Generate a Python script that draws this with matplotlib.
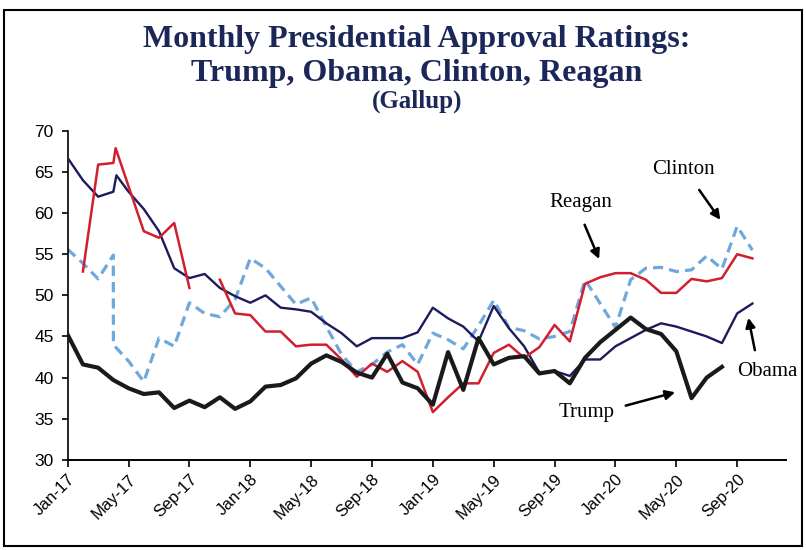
import matplotlib
matplotlib.use('Agg')
import matplotlib.pyplot as plt
import matplotlib.patches as patches
import numpy as np

# month offsets from Jan-17 (scanned chart has a few odd half-steps)
trump_x = list(range(0, 44))
trump = [45.2, 41.6, 41.2, 39.7, 38.7, 38.0, 38.2, 36.3, 37.2, 36.4,
         37.6, 36.2, 37.1, 38.9, 39.1, 39.9, 41.7, 42.7, 41.9, 40.6,
         40.0, 42.9, 39.4, 38.7, 36.7, 43.1, 38.5, 44.8, 41.6, 42.4,
         42.6, 40.5, 40.8, 39.3, 42.4, 44.3, 45.8, 47.3, 45.9, 45.3,
         43.2, 37.5, 40.0, 41.3]

obama_x = [0, 1, 2, 3, 3.2] + list(range(4, 46))
obama = [66.7, 64.0, 62.0, 62.6, 64.6,
         62.6, 60.5, 57.8, 53.3, 52.1, 52.6, 50.9, 49.9, 49.1, 50.0,
         48.5, 48.3, 48.0, 46.6, 45.4, 43.8, 44.8, 44.8, 44.8, 45.5,
         48.5, 47.2, 46.2, 44.4, 48.7, 46.0, 43.8, 40.6, 40.8, 40.2,
         42.2, 42.2, 43.8, 44.8, 45.8, 46.6, 46.2, 45.6, 45.0, 44.2,
         47.8, 49.0]

reagan_x = [1, 2, 3, 3.15, 5, 6, 7, 8, 9] + list(range(10, 46))
reagan = [52.9, 65.9, 66.1, 67.9, 57.8, 57.0, 58.8, 50.9, np.nan,
          51.9, 47.8, 47.6, 45.6, 45.6, 43.8, 44.0, 44.0, 42.2, 40.1,
          41.7, 40.7, 42.0, 40.7, 35.8, 37.6, 39.3, 39.3, 43.0, 44.0,
          42.4, 43.7, 46.4, 44.4, 51.4, 52.2, 52.7, 52.7, 51.9, 50.3,
          50.3, 52.0, 51.7, 52.1, 55.0, 54.5]

clinton_x = [0, 1, 2, 3, 3] + list(range(4, 46))
clinton = [55.6, 53.9, 52.0, 54.9, 44.0,
           42.0, 39.5, 44.8, 43.8, 49.1, 47.8, 47.4, 49.5, 54.5, 53.3,
           51.1, 48.9, 49.7, 46.2, 42.8, 40.7, 41.6, 43.1, 44.0, 41.6,
           45.4, 44.6, 43.5, 46.3, 49.4, 46.1, 45.7, 44.7, 45.0, 45.6,
           51.9, 49.0, 46.1, 51.9, 53.3, 53.4, 52.9, 53.1, 54.8, 53.2,
           58.4, 55.5]

tick_pos = list(range(0, 45, 4))
tick_labels = ['Jan-17', 'May-17', 'Sep-17', 'Jan-18', 'May-18', 'Sep-18',
               'Jan-19', 'May-19', 'Sep-19', 'Jan-20', 'May-20', 'Sep-20']

serif = 'Liberation Serif'
title_color = '#1c2759'

fig = plt.figure(figsize=(8.06, 5.5), dpi=100)
ax = fig.add_axes([0.084, 0.164, 0.891, 0.598])

ax.plot(clinton_x, clinton, color='#6fa8dc', lw=2.3, dashes=(3.2, 1.9), zorder=2)
ax.plot(obama_x, obama, color='#1b1b5e', lw=1.7, zorder=3)
ax.plot(reagan_x, reagan, color='#d11f2f', lw=1.8, zorder=4)
ax.plot(trump_x, trump, color='#1a1a1a', lw=3.0, zorder=5)

ax.set_xlim(0, 47.2)
ax.set_ylim(30, 70)
ax.set_yticks(range(30, 71, 5))
ax.set_xticks(tick_pos)
ax.set_xticklabels(tick_labels, rotation=45, ha='right', va='top',
                   rotation_mode='anchor', fontsize=12, family='Liberation Sans')
for lab in ax.get_yticklabels():
    lab.set_family('Liberation Sans')
    lab.set_fontsize(12.5)
ax.tick_params(axis='both', direction='out', length=5, width=1.2, color='black')
ax.tick_params(axis='y', length=4, pad=6)
ax.spines['top'].set_visible(False)
ax.spines['right'].set_visible(False)
ax.spines['left'].set_linewidth(1.2)
ax.spines['bottom'].set_linewidth(1.4)

# name labels with arrows
arrow = dict(arrowstyle='-|>', color='black', lw=1.8, mutation_scale=14)
ax.text(40.5, 65.3, 'Clinton', family=serif, fontsize=15, ha='center', va='center')
ax.annotate('', xy=(43.0, 58.9), xytext=(41.4, 63.1), arrowprops=arrow)
ax.text(33.7, 61.3, 'Reagan', family=serif, fontsize=15, ha='center', va='center')
ax.annotate('', xy=(35.0, 54.1), xytext=(33.9, 58.9), arrowprops=arrow)
ax.text(46.0, 40.7, 'Obama', family=serif, fontsize=15, ha='center', va='center', clip_on=False)
ax.annotate('', xy=(44.7, 47.6), xytext=(45.2, 43.0), arrowprops=arrow)
ax.text(34.1, 35.7, 'Trump', family=serif, fontsize=15, ha='center', va='center')
ax.annotate('', xy=(40.1, 38.3), xytext=(36.5, 36.5), arrowprops=arrow)

# title block
fig.text(0.517, 0.929, 'Monthly Presidential Approval Ratings:', family=serif,
         fontsize=23, fontweight='bold', color=title_color, ha='center', va='center')
fig.text(0.517, 0.866, 'Trump, Obama, Clinton, Reagan', family=serif,
         fontsize=23, fontweight='bold', color=title_color, ha='center', va='center')
fig.text(0.517, 0.815, '(Gallup)', family=serif, fontsize=18, fontweight='bold',
         color=title_color, ha='center', va='center')

# outer frame
fig.patches.append(patches.Rectangle((0.005, 0.007), 0.99, 0.975, transform=fig.transFigure,
                                     fill=False, edgecolor='black', lw=1.5))

fig.savefig('out.png', dpi=100, facecolor='white')
